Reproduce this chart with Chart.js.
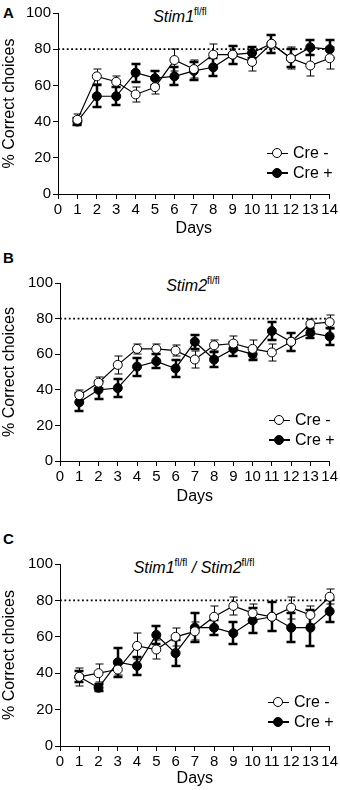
<!DOCTYPE html>
<html>
<head>
<meta charset="utf-8">
<script src="https://cdn.jsdelivr.net/npm/chart.js@4.4.1/dist/chart.umd.min.js"></script>
<style>
body{margin:0;background:#fff;width:340px;height:790px;position:relative;overflow:hidden;font-family:"Liberation Sans",Arial,sans-serif;color:#000}
.panel{position:absolute;left:0;width:340px}
.letter{position:absolute;left:3px;font-weight:bold;font-size:15px;line-height:16px}
.title{position:absolute;font-style:italic;font-size:16px;line-height:18px;white-space:nowrap;transform:translateX(-50%)}
.title sup{font-size:10px;font-style:normal;vertical-align:7px}
.leg{position:absolute;font-size:16px}
.row{display:flex;align-items:center;height:20px}
.sym{position:relative;width:21px;height:20px;margin-right:5px}
.sym .ln{position:absolute;left:0;right:0;top:10px;height:1px;background:#000}
.sym.fill .ln{height:2px;top:9px}
.dot{position:absolute;left:5px;top:5px;width:8px;height:8px;border:1px solid #000;border-radius:50%;background:#fff}
.fill .dot{background:#000}
</style>
</head>
<body>

<div class="letter" style="top:5px">A</div>
<div class="title" style="left:180px;top:3px">Stim1<sup>fl/fl</sup></div>
<div class="panel" style="top:0;height:238px"><canvas id="chartA" width="340" height="238"></canvas></div>
<div class="leg" style="left:267px;top:143px">
  <div class="row"><div class="sym"><div class="ln"></div><div class="dot"></div></div>Cre -</div>
  <div class="row"><div class="sym fill"><div class="ln"></div><div class="dot"></div></div>Cre +</div>
</div>

<div class="letter" style="top:250px">B</div>
<div class="title" style="left:193px;top:272px">Stim2<sup>fl/fl</sup></div>
<div class="panel" style="top:250px;height:256px"><canvas id="chartB" width="340" height="256"></canvas></div>
<div class="leg" style="left:269px;top:410px">
  <div class="row"><div class="sym"><div class="ln"></div><div class="dot"></div></div>Cre -</div>
  <div class="row"><div class="sym fill"><div class="ln"></div><div class="dot"></div></div>Cre +</div>
</div>

<div class="letter" style="top:531px">C</div>
<div class="title" style="left:194px;top:554px">Stim1<sup>fl/fl</sup> / Stim2<sup>fl/fl</sup></div>
<div class="panel" style="top:525px;height:263px"><canvas id="chartC" width="340" height="263"></canvas></div>
<div class="leg" style="left:268px;top:692px">
  <div class="row"><div class="sym"><div class="ln"></div><div class="dot"></div></div>Cre -</div>
  <div class="row"><div class="sym fill"><div class="ln"></div><div class="dot"></div></div>Cre +</div>
</div>

<script>
// dados
const days = [1, 2, 3, 4, 5, 6, 7, 8, 9, 10, 11, 12, 13, 14];
const xTicks = [0, 1, 2, 3, 4, 5, 6, 7, 8, 9, 10, 11, 12, 13, 14];
const yTicks = [0, 20, 40, 60, 80, 100];
const criterion = 80;

// A - Stim1 fl/fl
const stim1Neg    = [41, 65, 62, 55, 59, 74, 69, 77, 77, 73, 83, 75, 71, 75];
const stim1NegErr = [3, 4, 3, 4, 4, 6, 5, 6, 5, 5, 5, 6, 6, 6];
const stim1Pos    = [40, 54, 54, 67, 64, 65, 68, 70, 77, 78, 83, 75, 81, 80];
const stim1PosErr = [2, 6, 5, 5, 4, 5, 5, 5, 5, 3, 5, 5, 4, 5];

// B - Stim2 fl/fl
const stim2Neg    = [37, 44, 54, 63, 63, 62, 57, 65, 66, 63, 61, 67, 77, 78];
const stim2NegErr = [3, 3, 5, 3, 3, 3, 5, 3, 4, 5, 5, 5, 3, 4];
const stim2Pos    = [33, 40, 41, 53, 56, 52, 67, 57, 63, 60, 73, 67, 72, 70];
const stim2PosErr = [5, 5, 5, 5, 4, 5, 4, 4, 4, 3, 5, 5, 3, 5];

// C - Stim1 fl/fl / Stim2 fl/fl
const dkoNeg    = [38, 40, 42, 55, 53, 60, 63, 71, 77, 73, 71, 76, 72, 82];
const dkoNegErr = [5, 5, 3, 7, 5, 5, 5, 6, 5, 5, 8, 6, 5, 4];
const dkoPos    = [38, 32, 46, 44, 61, 51, 65, 65, 62, 69, 71, 65, 65, 74];
const dkoPosErr = [3, 2, 8, 5, 5, 7, 8, 4, 6, 7, 8, 8, 10, 6];

const fonte = "'Liberation Sans', Arial, sans-serif";

const errorBars = {
  id: 'errorBars',
  beforeDatasetDraw(chart, args) {
    const ds = chart.data.datasets[args.index];
    if (!ds.err) return;
    const y = chart.scales.y;
    const ctx = chart.ctx;
    ctx.save();
    ctx.strokeStyle = '#000';
    ctx.lineWidth = ds.errWidth;
    const cap = ds.errWidth > 1 ? 4.5 : 4;
    args.meta.data.forEach((pt, i) => {
      const v = ds.data[i].y;
      const top = Math.round(y.getPixelForValue(v + ds.err[i]));
      const bot = Math.round(y.getPixelForValue(v - ds.err[i]));
      const x = ds.errWidth === 1 ? Math.round(pt.x) + 0.5 : Math.round(pt.x);
      ctx.beginPath();
      ctx.moveTo(x, top); ctx.lineTo(x, bot);
      ctx.moveTo(x - cap, top); ctx.lineTo(x + cap, top);
      ctx.moveTo(x - cap, bot); ctx.lineTo(x + cap, bot);
      ctx.stroke();
    });
    ctx.restore();
  }
};

function pontos(vals) {
  return days.map((d, i) => ({ x: d, y: vals[i] }));
}

function criarGrafico(id, neg, negErr, pos, posErr, g) {
  const ctx = document.getElementById(id).getContext('2d');
  new Chart(ctx, {
    type: 'line',
    data: {
      datasets: [
        {
          label: 'Cre -',
          data: pontos(neg),
          err: negErr,
          errWidth: 1,
          borderColor: '#000',
          borderWidth: 1.2,
          pointBackgroundColor: '#fff',
          pointBorderColor: '#000',
          pointBorderWidth: 1,
          pointRadius: 4.5,
          clip: false,
          order: 0
        },
        {
          label: 'Cre +',
          data: pontos(pos),
          err: posErr,
          errWidth: 2.5,
          borderColor: '#000',
          borderWidth: 1.2,
          pointBackgroundColor: '#000',
          pointBorderColor: '#000',
          pointBorderWidth: 1,
          pointRadius: 4.5,
          clip: false,
          order: 1
        },
        {
          label: 'criterio',
          data: [{ x: xTicks[0], y: criterion }, { x: xTicks[xTicks.length - 1], y: criterion }],
          borderColor: '#000',
          borderWidth: 1.8,
          borderDash: [1.8, 2.6],
          pointRadius: 0,
          order: 2
        }
      ]
    },
    options: {
      responsive: false,
      animation: false,
      devicePixelRatio: 1,
      layout: { padding: { top: g.top, right: g.right, left: 0, bottom: 0 } },
      plugins: { legend: { display: false }, tooltip: { enabled: false } },
      scales: {
        x: {
          type: 'linear',
          min: 0,
          max: 14,
          afterFit: s => { s.height = g.xh; },
          afterBuildTicks: s => { s.ticks = xTicks.map(v => ({ value: v })); },
          ticks: { autoSkip: false, maxRotation: 0, color: '#000', padding: 2, font: { family: fonte, size: 15 } },
          grid: { drawOnChartArea: false, drawTicks: true, tickLength: 5, color: '#000' },
          border: { color: '#000', width: 1 },
          title: { display: true, text: 'Days', color: '#000', padding: 0, font: { family: fonte, size: 16 } }
        },
        y: {
          min: 0,
          max: 100,
          afterFit: s => { s.width = g.left; },
          afterBuildTicks: s => { s.ticks = yTicks.map(v => ({ value: v })); },
          ticks: { color: '#000', padding: 2, font: { family: fonte, size: 15 } },
          grid: { drawOnChartArea: false, drawTicks: true, tickLength: 5, color: '#000' },
          border: { color: '#000', width: 1 },
          title: { display: true, text: '% Correct choices', color: '#000', padding: 0, font: { family: fonte, size: 16 } }
        }
      }
    },
    plugins: [errorBars]
  });
}

criarGrafico('chartA', stim1Neg, stim1NegErr, stim1Pos, stim1PosErr, { top: 13, left: 58, right: 10, xh: 44 });
criarGrafico('chartB', stim2Neg, stim2NegErr, stim2Pos, stim2PosErr, { top: 33, left: 60, right: 8, xh: 45 });
criarGrafico('chartC', dkoNeg, dkoNegErr, dkoPos, dkoPosErr, { top: 39, left: 60, right: 7, xh: 42 });
</script>
</body>
</html>
